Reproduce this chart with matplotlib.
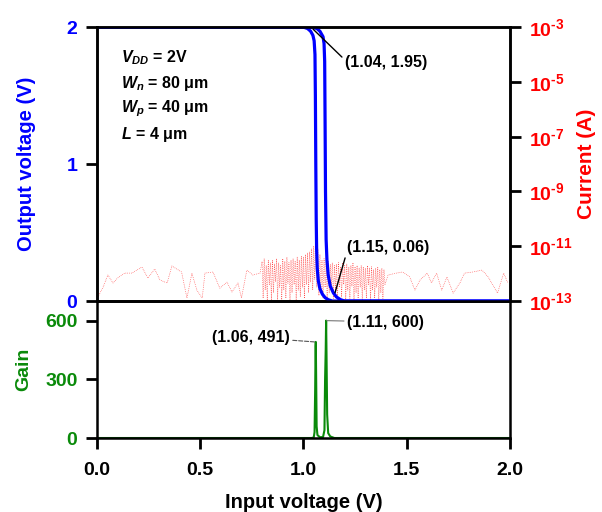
import numpy as np
import matplotlib

matplotlib.use("Agg")
import matplotlib.pyplot as plt

plt.rcParams["font.family"] = ["Liberation Sans", "DejaVu Sans"]
plt.rcParams["font.weight"] = "bold"
plt.rcParams["mathtext.fontset"] = "custom"
plt.rcParams["mathtext.rm"] = "Liberation Sans:bold"
plt.rcParams["mathtext.bf"] = "Liberation Sans:bold"
plt.rcParams["mathtext.it"] = "Liberation Sans:italic:bold"

BLUE = "#0000ff"
RED = "#ff0000"
GREEN = "#0a8a0a"

# ---- transfer curves (forward / backward sweep)
vin_fwd = [0.0, 1.00, 1.02, 1.035, 1.046, 1.052, 1.056, 1.058, 1.060, 1.062,
           1.064, 1.067, 1.072, 1.080, 1.092, 1.105, 1.120, 1.140, 2.0]
vout_fwd = [2.0, 2.0, 1.99, 1.97, 1.94, 1.90, 1.80, 1.50, 1.00, 0.60,
            0.38, 0.24, 0.15, 0.09, 0.05, 0.025, 0.01, 0.0, 0.0]
vin_bwd = [0.0, 1.04, 1.065, 1.080, 1.095, 1.100, 1.103, 1.105, 1.107, 1.110,
           1.114, 1.120, 1.130, 1.145, 1.160, 1.180, 1.200, 2.0]
vout_bwd = [2.0, 2.0, 1.99, 1.97, 1.93, 1.88, 1.75, 1.30, 0.80, 0.45,
            0.30, 0.19, 0.11, 0.06, 0.03, 0.01, 0.0, 0.0]

# ---- supply current, log10(A)
cur_x_low = [0.005, 0.03, 0.053, 0.078, 0.10, 0.135, 0.17, 0.218, 0.247, 0.28,
             0.305, 0.34, 0.363, 0.41, 0.436, 0.46, 0.484, 0.51, 0.523, 0.562,
             0.595, 0.63, 0.654, 0.683, 0.70, 0.726, 0.755, 0.79]
cur_e_low = [-12.85, -12.49, -12.05, -12.34, -12.16, -11.98, -11.98, -11.76, -12.16, -11.83,
             -12.23, -12.34, -11.72, -11.94, -12.89, -11.98, -12.6, -12.89, -11.98, -11.94,
             -12.53, -12.31, -12.67, -12.34, -12.89, -11.87, -12.05, -11.98]
cur_x_mid = [0.800, 0.805, 0.810, 0.815, 0.820, 0.825, 0.830, 0.835, 0.840, 0.845,
             0.850, 0.855, 0.860, 0.865, 0.870, 0.875, 0.880, 0.885, 0.890, 0.895,
             0.900, 0.905, 0.910, 0.915, 0.920, 0.925, 0.930, 0.935, 0.940, 0.945,
             0.950, 0.955, 0.960, 0.965, 0.970, 0.975, 0.980, 0.985, 0.990, 0.995,
             1.000, 1.005, 1.010, 1.015, 1.020, 1.025, 1.030, 1.035, 1.040, 1.045,
             1.050, 1.055, 1.060, 1.065, 1.070, 1.075, 1.080, 1.085, 1.090, 1.095,
             1.100, 1.105, 1.110, 1.115, 1.120, 1.125, 1.130, 1.135, 1.140, 1.145,
             1.150, 1.155, 1.160, 1.165, 1.170, 1.175, 1.180, 1.185, 1.190, 1.195,
             1.200, 1.205, 1.210, 1.215, 1.220, 1.225, 1.230, 1.235, 1.240, 1.245,
             1.250, 1.255, 1.260, 1.265, 1.270, 1.275, 1.280, 1.285, 1.290, 1.295,
             1.300, 1.305, 1.310, 1.315, 1.320, 1.325, 1.330, 1.335, 1.340, 1.345,
             1.350, 1.355, 1.360, 1.365, 1.370, 1.375, 1.380, 1.385, 1.390, 1.395]
cur_e_mid = [-11.55, -12.9, -11.45, -12.6, -11.7, -13.0, -11.5, -12.4, -11.6, -12.95,
             -11.5, -12.7, -11.65, -12.3, -11.45, -12.95, -11.6, -12.5, -11.7, -13.0,
             -11.45, -12.6, -11.55, -12.9, -11.4, -12.35, -11.6, -12.95, -11.5, -12.7,
             -11.45, -12.4, -11.55, -12.95, -11.4, -12.6, -11.5, -12.85, -11.35, -12.5,
             -11.4, -12.9, -11.3, -12.4, -11.25, -12.7, -11.2, -12.3, -11.1, -12.6,
             -11.0, -12.2, -10.9, -12.5, -11.1, -12.8, -11.3, -12.6, -11.5, -12.9,
             -11.45, -12.5, -11.6, -12.95, -11.55, -12.7, -11.65, -12.4, -11.6, -12.9,
             -11.7, -12.6, -11.65, -12.95, -11.6, -12.5, -11.75, -12.85, -11.6, -12.4,
             -11.7, -12.95, -11.65, -12.6, -11.75, -12.9, -11.7, -12.45, -11.6, -12.95,
             -11.75, -12.7, -11.7, -12.9, -11.8, -12.5, -11.7, -12.95, -11.75, -12.6,
             -11.8, -12.9, -11.7, -12.4, -11.8, -12.95, -11.75, -12.6, -11.85, -12.9,
             -11.8, -12.5, -11.75, -12.95, -11.85, -12.7, -11.8, -12.9, -11.85, -12.4]
cur_x_high = [1.41, 1.45, 1.48, 1.515, 1.54, 1.565, 1.60, 1.62, 1.645, 1.67,
              1.695, 1.725, 1.76, 1.78, 1.82, 1.865, 1.895, 1.94, 1.97, 1.99]
cur_e_high = [-12.05, -11.98, -11.94, -12.12, -12.6, -12.23, -11.98, -12.34, -11.98, -12.6,
              -12.12, -12.71, -12.31, -11.98, -11.94, -11.87, -12.12, -12.71, -11.98, -12.34]

# ---- voltage gain
gain_x = [0.0, 1.040, 1.050, 1.054, 1.057, 1.059, 1.060, 1.062, 1.064, 1.068,
          1.080, 1.095, 1.102, 1.105, 1.108, 1.110, 1.112, 1.115, 1.120, 1.130,
          1.150, 2.0]
gain_y = [0, 0, 3, 30, 250, 470, 491, 280, 60, 15,
          4, 5, 40, 300, 450, 600, 420, 120, 25, 8,
          0, 0]

fig = plt.figure(figsize=(6.02, 5.12), dpi=100)
ax = fig.add_axes([0.161, 0.412, 0.686, 0.535])
axg = fig.add_axes([0.161, 0.1445, 0.686, 0.2675], sharex=ax)
axi = ax.twinx()
ax.set_zorder(axi.get_zorder() + 1)
ax.patch.set_visible(False)

cx = cur_x_low + cur_x_mid + cur_x_high
ce = cur_e_low + cur_e_mid + cur_e_high
axi.plot(cx, 10.0 ** np.array(ce), ls=":", lw=0.5, color=RED, alpha=0.75)
axi.set_yscale("log")
axi.set_ylim(1e-13, 1e-3)
axi.set_yticks([1e-13, 1e-11, 1e-9, 1e-7, 1e-5, 1e-3])
axi.set_yticklabels([r"$10^{\text{-}13}$", r"$10^{\text{-}11}$", r"$10^{\text{-}9}$",
                     r"$10^{\text{-}7}$", r"$10^{\text{-}5}$", r"$10^{\text{-}3}$"])
axi.minorticks_off()
axi.tick_params(axis="y", colors="black", labelcolor=RED, labelsize=14,
                direction="out", length=8, width=2, pad=6)
axi.set_ylabel("Current (A)", color=RED, fontsize=15, fontweight="bold", labelpad=3)

ax.plot(vin_fwd, vout_fwd, color=BLUE, lw=2.3)
ax.plot(vin_bwd, vout_bwd, color=BLUE, lw=2.3)
ax.set_xlim(0, 2)
ax.set_ylim(0, 2)
ax.set_yticks([0, 1, 2])
ax.tick_params(axis="y", colors="black", labelcolor=BLUE, labelsize=14,
               direction="out", length=8, width=2, pad=6)
ax.tick_params(axis="x", bottom=False, labelbottom=False)
ax.set_ylabel("Output voltage (V)", color=BLUE, fontsize=14.5, fontweight="bold", labelpad=22)

for a in (ax, axi, axg):
    for s in a.spines.values():
        s.set_linewidth(1.8)

ax.annotate("(1.04, 1.95)", xy=(1.047, 1.985), xytext=(1.20, 1.74),
            fontsize=11.5, fontweight="bold", va="center", ha="left",
            arrowprops=dict(arrowstyle="-", color="black", lw=1.0,
                            shrinkA=0, shrinkB=0, relpos=(0, 0.7)))
ax.annotate("(1.15, 0.06)", xy=(1.153, 0.06), xytext=(1.21, 0.39),
            fontsize=11.5, fontweight="bold", va="center", ha="left",
            arrowprops=dict(arrowstyle="-", color="black", lw=1.0,
                            shrinkA=0, shrinkB=0, relpos=(0, 0.2)))

info = [r"$V_{DD}$ = 2V", r"$W_n$ = 80 μm", r"$W_p$ = 40 μm", r"$L$ = 4 μm"]
for i, t in enumerate(info):
    ax.text(0.115, 1.78 - i * 0.188, t, fontsize=11.5, fontweight="bold",
            va="center", ha="left")

axg.plot(gain_x, gain_y, color=GREEN, lw=1.5)
axg.set_ylim(0, 700)
axg.set_yticks([0, 300, 600])
axg.set_xticks([0.0, 0.5, 1.0, 1.5, 2.0])
axg.set_xticklabels(["0.0", "0.5", "1.0", "1.5", "2.0"])
axg.tick_params(axis="y", colors="black", labelcolor=GREEN, labelsize=14,
                direction="out", length=8, width=2, pad=6)
axg.tick_params(axis="x", labelsize=14, direction="out", length=8, width=2, pad=9)
axg.set_ylabel("Gain", color=GREEN, fontsize=14, fontweight="bold", labelpad=9)
axg.set_xlabel("Input voltage (V)", fontsize=14.5, fontweight="bold", labelpad=10)

axg.annotate("(1.06, 491)", xy=(1.056, 491), xytext=(0.935, 515),
             fontsize=11.5, va="center", ha="right",
             arrowprops=dict(arrowstyle="-", color="#555555", lw=0.8, ls="--",
                             shrinkA=0, shrinkB=0))
axg.annotate("(1.11, 600)", xy=(1.113, 600), xytext=(1.21, 590),
             fontsize=11.5, va="center", ha="left",
             arrowprops=dict(arrowstyle="-", color="#777777", lw=0.8,
                             shrinkA=0, shrinkB=0, relpos=(0, 0.6)))

fig.savefig("out.png", dpi=100)
